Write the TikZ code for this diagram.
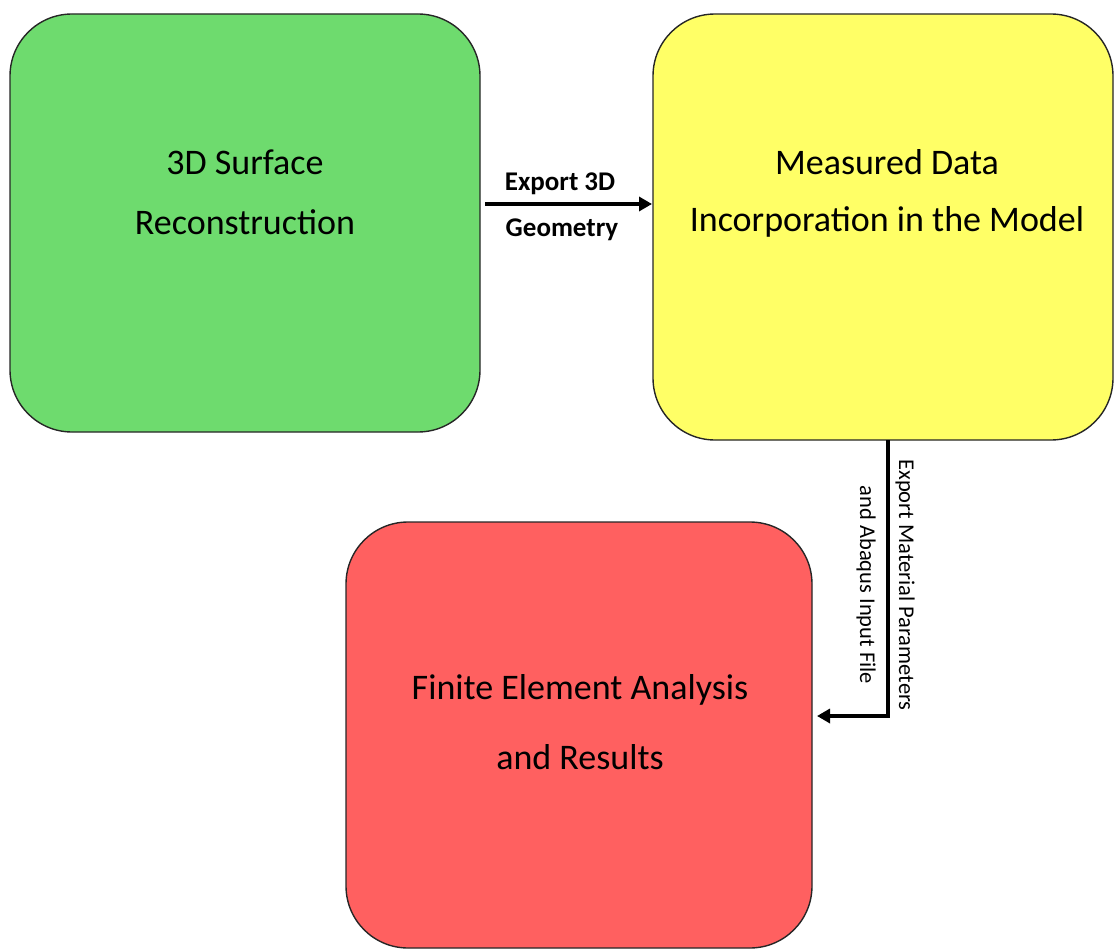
\documentclass[tikz,border=0pt]{standalone}
\usepackage{fontspec}
\setmainfont{Carlito}
\usetikzlibrary{arrows.meta,calc}
\definecolor{boxgreen}{RGB}{110,219,110}
\definecolor{boxyellow}{RGB}{255,255,102}
\definecolor{boxred}{RGB}{255,96,96}
\tikzset{
  box/.style={draw=black!85, line width=1.4pt, rounded corners=62pt, inner sep=0pt},
  maintext/.style={font=\fontsize{36}{60}\selectfont, align=center, inner sep=0pt},
  lbl/.style={font=\bfseries\fontsize{27}{27}\selectfont, inner sep=0pt},
  vlbl/.style={font=\fontsize{22.5}{22.5}\selectfont, inner sep=0pt, rotate=-90},
  arr/.style={line width=3.5pt, -{Triangle[length=13pt,width=14pt]}}
}
\begin{document}
\begin{tikzpicture}[x=1pt,y=-1pt]
\useasboundingbox (0,0) rectangle (1114,950);
\node[box, fill=boxgreen, minimum width=470pt, minimum height=418pt] (green) at (245,223) {};
\node[box, fill=boxyellow, minimum width=460pt, minimum height=426pt] (yellow) at (883,227) {};
\node[box, fill=boxred, minimum width=466pt, minimum height=426pt] (red) at (579,735) {};
\node[maintext] (gt1) at (245,162) {3D Surface};
\node[maintext] (gt2) at (245,222) {Reconstruction};
\node[maintext] (yt1) at (887,162) {Measured Data};
\node[maintext] (yt2) at (887,222) {Incorporation in the Model};
\node[maintext] (rt1) at (580,690) {Finite Element Analysis};
\node[maintext] (rt2) at (580,757) {and Results};
\coordinate (a1s) at (485,204);
\coordinate (a1e) at (652,204);
\draw[arr] (a1s) -- (a1e);
\node[lbl] (l1) at (560,184) {Export 3D};
\node[lbl] (l2) at (562,230) {Geometry};
\coordinate (a2s) at (888,440);
\coordinate (a2m) at (888,716);
\coordinate (a2e) at (817,716);
\draw[arr] (a2s) -- (a2m) -- (a2e);
\node[vlbl] (l3) at (905,585) {Export Material Parameters};
\node[vlbl] (l4) at (866,585) {and Abaqus Input File};
\end{tikzpicture}
\end{document}
